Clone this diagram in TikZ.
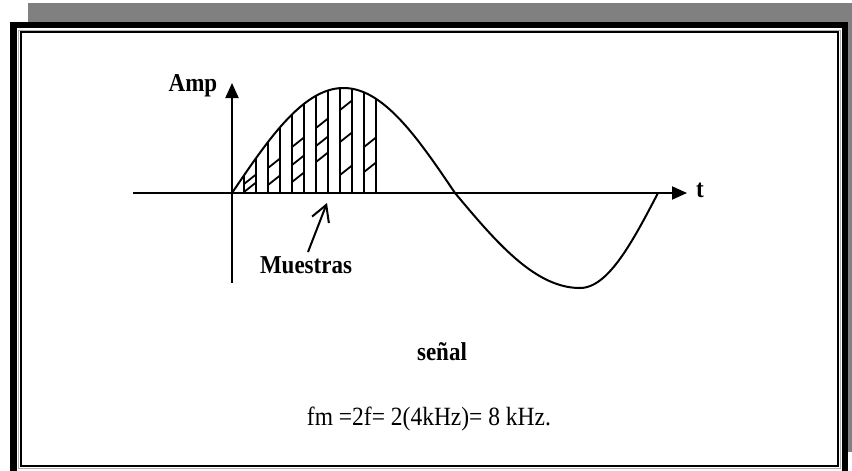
\documentclass[tikz,border=0pt]{standalone}
\usepackage{fontspec}
\usepackage{graphicx}
\setmainfont{Liberation Serif}
\usetikzlibrary{arrows.meta}
\newcommand{\tallText}[1]{\scalebox{1}[1.12]{#1}}
\tikzset{
  axisline/.style={line width=2pt, -{Triangle[length=15pt,width=13pt]}},
  curveline/.style={line width=2pt},
  sampleline/.style={line width=2pt},
  hatchline/.style={line width=1.8pt},
  lbl/.style={font=\fontsize{23}{27}\selectfont\bfseries, inner sep=0pt},
  formula/.style={font=\fontsize{23.5}{28}\selectfont, inner sep=0pt},
  ptr/.style={line width=2pt, -{Straight Barb[length=16pt,width=18pt,line width=2pt]}}
}
\begin{document}
\begin{tikzpicture}[x=1pt,y=-1pt]
\useasboundingbox (0,0) rectangle (852,471);
% frame
\fill[black!50] (28,3) rectangle (852,22);
\fill[black!50] (848,22) rectangle (852,452);
\fill[black] (10,22) rectangle (848,28);
\fill[black] (10,22) rectangle (17,471);
\fill[black] (842,22) rectangle (848,471);
\draw[black!30, line width=1pt] (18.5,30) rectangle (840.5,468);
\draw[black, line width=1.6pt] (20.8,32) rectangle (838.2,466);
% axes
\coordinate (o) at (232,193);
\coordinate (xs) at (133,193);
\coordinate (xe) at (687,193);
\coordinate (ys) at (232,283);
\coordinate (ye) at (232,83);
\draw[axisline] (xs) -- (xe);
\draw[axisline] (ys) -- (ye);
\node[lbl] (amp) at (193,86) {\tallText{Amp}};
\node[lbl] (t) at (700,190) {\tallText{t}};
% curve
\draw[curveline] plot[domain=232:455, samples=90] (\x, {193-105*sin((\x-232)/223*180)})
  -- plot[domain=455:580, samples=50] (\x, {193+95*sin((\x-455)/125*90)})
  -- plot[domain=580:658, samples=40] (\x, {193+95*cos((\x-580)/78*90)});
% sample lines
\foreach \sx in {244,256,...,376}{
  \draw[sampleline] (\sx,193) -- (\sx, {193-105*sin((\sx-232)/223*180)});
}
% hatches
\foreach \hx/\hy in {244/192, 244/184,
                     268/185, 268/168,
                     292/182, 292/165, 292/147,
                     316/162, 316/146, 316/128,
                     340/175, 340/142, 340/110,
                     364/172, 364/147}{
  \draw[hatchline] (\hx,\hy) -- (\hx+12,\hy-9.5);
}
% Muestras
\node[lbl] (mu) at (306,265) {\tallText{Muestras}};
\coordinate (mus) at (308,252);
\coordinate (mut) at (327,203);
\draw[ptr] (mus) -- (mut);
% texts
\node[lbl] (senal) at (442,352) {\tallText{señal}};
\node[formula] (fm) at (429,419) {\tallText{fm =2f= 2(4kHz)= 8 kHz.}};
\end{tikzpicture}
\end{document}
